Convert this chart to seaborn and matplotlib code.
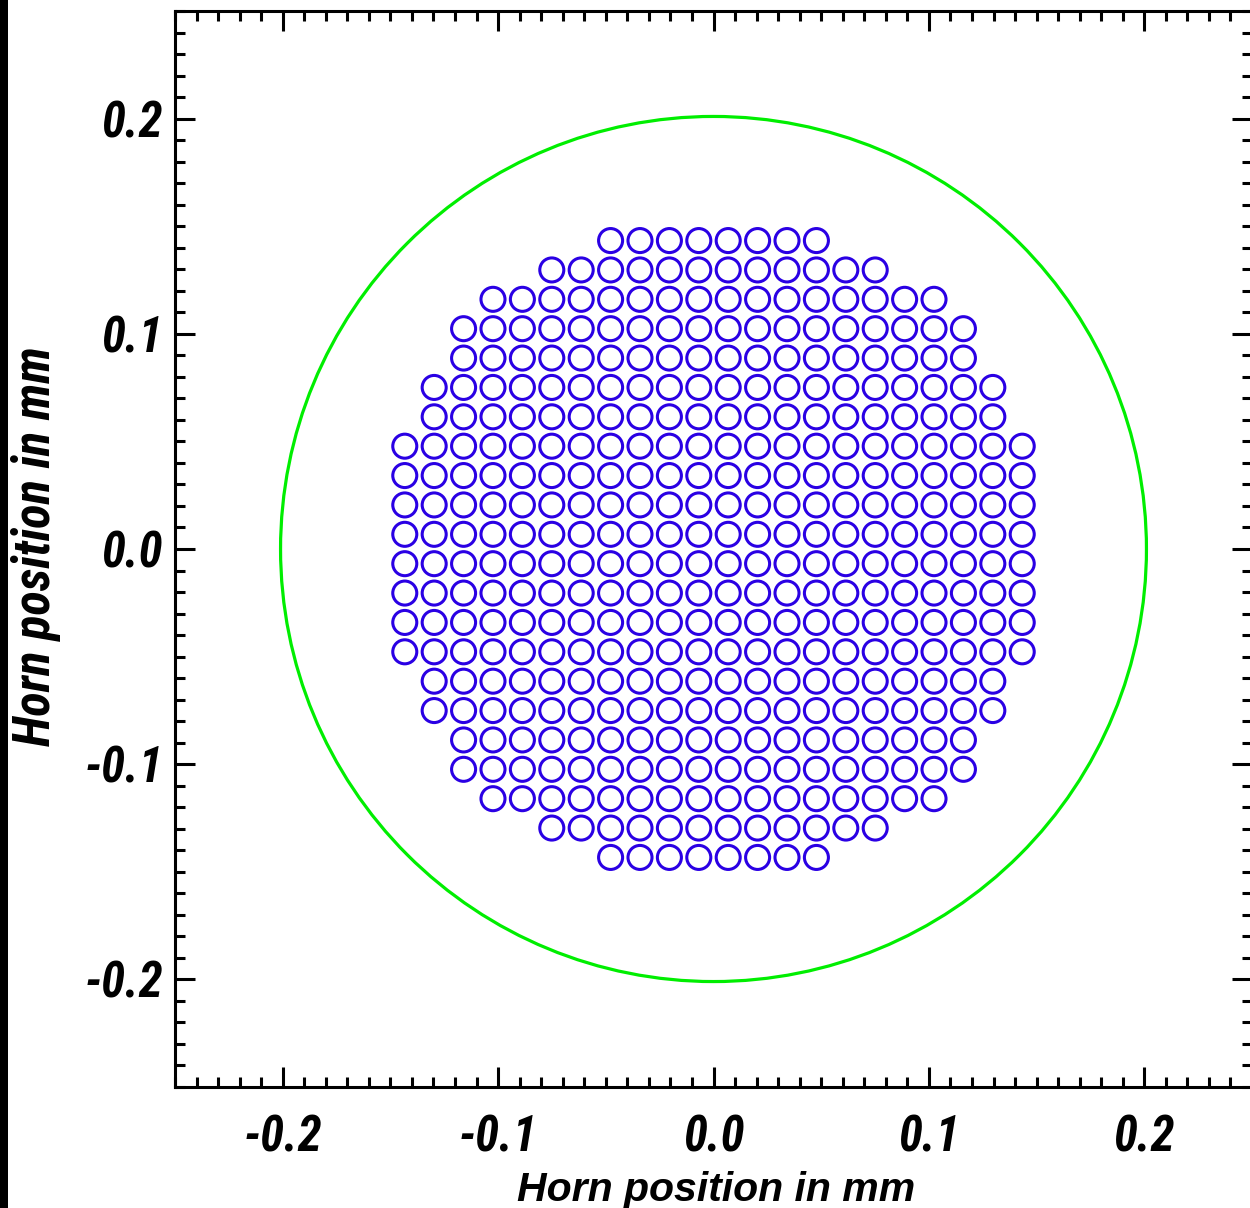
import numpy as np
import pandas as pd
import matplotlib
matplotlib.use("Agg")
import matplotlib.pyplot as plt
import seaborn as sns
from matplotlib import font_manager as fm
from matplotlib.patches import Circle, Rectangle
from matplotlib.ticker import MultipleLocator

# ---- data ----
row_counts = [8, 12, 16, 18, 18, 20, 20, 22, 22, 22, 22,
              22, 22, 22, 22, 20, 20, 18, 18, 16, 12, 8]
pitch_mm = 0.01365
outer_radius_mm = 0.201
tick_values = [-0.2, -0.1, 0.0, 0.1, 0.2]
tick_labels = ["-0.2", "-0.1", "0.0", "0.1", "0.2"]
axis_label = "Horn position in mm"

# horn centres from the row layout
n_rows = len(row_counts)
xs, ys = [], []
for i, n in enumerate(row_counts):
    yv = ((n_rows - 1) / 2 - i) * pitch_mm
    for j in range(n):
        xs.append((j - (n - 1) / 2) * pitch_mm)
        ys.append(yv)
df = pd.DataFrame({"x": xs, "y": ys})

sns.set_theme(style="white")
names = {f.name for f in fm.fontManager.ttflist}
narrow = "Roboto Condensed" if "Roboto Condensed" in names else "Liberation Sans"
plt.rcParams["font.family"] = ["Liberation Sans", "DejaVu Sans"]
plt.rcParams["text.color"] = "black"
plt.rcParams["axes.labelcolor"] = "black"
plt.rcParams["xtick.color"] = "black"
plt.rcParams["ytick.color"] = "black"

fig = plt.figure(figsize=(12.5, 12.08), dpi=100)
ax = fig.add_axes([175 / 1250, (1208 - 1087) / 1208, 1077 / 1250, 1076 / 1208])

blue = "#2a00e4"
sns.scatterplot(data=df, x="x", y="y", ax=ax, marker="o", s=299,
                color=blue, facecolor="none", edgecolor=blue, linewidth=2.2,
                legend=False, zorder=3)
ax.add_patch(Circle((0, 0), outer_radius_mm, fill=False, edgecolor="#00ee00",
                    linewidth=2.3, zorder=2))

ax.set_xlim(-0.25, 0.25)
ax.set_ylim(-0.25, 0.25)
ax.set_xticks(tick_values)
ax.set_yticks(tick_values)
ax.xaxis.set_minor_locator(MultipleLocator(0.01))
ax.yaxis.set_minor_locator(MultipleLocator(0.01))
tfont = dict(family=[narrow, "DejaVu Sans"], weight="bold", style="italic",
             size=35, color="black")
ax.set_xticklabels(tick_labels, fontdict=tfont)
ax.set_yticklabels(tick_labels, fontdict=tfont)
ax.tick_params(which="both", direction="in", top=True, right=True,
               bottom=True, left=True, width=2.2, color="black")
ax.tick_params(which="major", length=14.4)
ax.tick_params(which="minor", length=7.2)
ax.tick_params(axis="x", which="major", pad=19.5)
ax.tick_params(axis="y", which="major", pad=8.6)
for sp in ax.spines.values():
    sp.set_linewidth(2.2)
    sp.set_color("black")

ax.set_xlabel(axis_label, family=["Liberation Sans", "DejaVu Sans"], weight="bold",
              style="italic", size=29.5, color="black")
ax.set_ylabel(axis_label, family=[narrow, "DejaVu Sans"], weight="bold",
              style="italic", size=36.5, color="black")
ax.xaxis.set_label_coords(0.5023, -0.0785)
ax.yaxis.set_label_coords(-0.106, 0.5023)

fig.add_artist(Rectangle((0, 0), 7.5 / 1250, 1, transform=fig.transFigure,
                         facecolor="black", edgecolor="none"))

fig.savefig("out.png", dpi=100)
